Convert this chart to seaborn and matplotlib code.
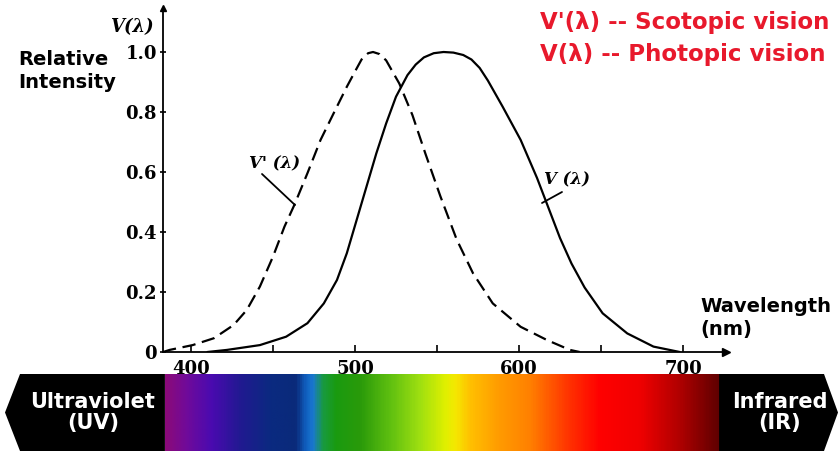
import numpy as np
import pandas as pd
import matplotlib
matplotlib.use("Agg")
import matplotlib.pyplot as plt
import seaborn as sns
from matplotlib.colors import LinearSegmentedColormap
from matplotlib.patches import Polygon
from matplotlib.ticker import FixedLocator

# ---------------- data ----------------
scotopic_wl = [383, 387, 401, 414, 426, 434, 442, 450, 457, 463, 471, 479, 487,
               495, 500, 504, 508, 511, 515, 519, 527, 535, 543, 552, 562, 572,
               584, 601, 617, 631, 637]
scotopic_v = [0.0, 0.007, 0.023, 0.046, 0.09, 0.14, 0.218, 0.318, 0.418, 0.49,
              0.596, 0.707, 0.796, 0.884, 0.935, 0.975, 0.996, 1.0, 0.993,
              0.972, 0.895, 0.79, 0.66, 0.52, 0.375, 0.262, 0.162, 0.084, 0.04,
              0.007, 0.0]

photopic_wl = [410, 422, 442, 458, 471, 481, 489, 495, 501, 507, 513, 519, 525,
               532, 537, 542, 548, 554, 560, 566, 571, 576, 581, 590, 601, 611,
               618, 625, 632, 640, 651, 666, 682, 698]
photopic_v = [0.0, 0.007, 0.023, 0.051, 0.096, 0.162, 0.24, 0.329, 0.44, 0.551,
              0.662, 0.762, 0.851, 0.923, 0.958, 0.982, 0.996, 1.0, 0.998,
              0.99, 0.975, 0.947, 0.905, 0.818, 0.707, 0.58, 0.48, 0.38, 0.295,
              0.215, 0.129, 0.062, 0.018, 0.0]

y_ticks = [0, 0.2, 0.4, 0.6, 0.8, 1.0]
y_ticklabels = ["0", "0.2", "0.4", "0.6", "0.8", "1.0"]
x_ticks = [400, 500, 600, 700]
x_ticklabels = ["400", "500", "600", "700"]
x_minor = [450, 550, 650]

spectrum_wl = [384.1, 396.3, 411.6, 429.9, 448.2, 463.4, 469.5, 473.8, 479.9,
               487.8, 503.0, 521.3, 539.6, 554.9, 561.0, 570.1, 588.4, 606.7,
               631.1, 649.4, 673.8, 698.2, 722.0]
spectrum_colors = ["#8a0a7a", "#700a9a", "#4a0ab0", "#201a90", "#0a2a80",
                   "#0a2a7a", "#1060c0", "#1a78d0", "#189a40", "#1a9a10",
                   "#2a9a0a", "#60c010", "#a0e010", "#e0f000", "#f5e800",
                   "#ffc000", "#ff9a00", "#ff8000", "#ff3000", "#ff0000",
                   "#f00000", "#b00000", "#600000"]

legend_lines = ["V'(λ) -- Scotopic vision", "V(λ) -- Photopic vision"]

# ---------------- figure ----------------
sns.set_theme(style="white")
plt.rcParams["font.family"] = ["DejaVu Sans"]
plt.rcParams["text.color"] = "black"

W, H = 840, 454
fig = plt.figure(figsize=(W / 100, H / 100), dpi=100)
fig.patch.set_facecolor("white")

PX_PER_NM = 1.64
def lam(px):
    return 400 + (px - 191) / PX_PER_NM

def fx(px):
    return px / W

def fy(py):
    return 1 - py / H

# main axes
ax = fig.add_axes([fx(163), fy(352), (726 - 163) / W, (352 - 8) / H])
ax.set_facecolor("white")

df_s = pd.DataFrame({"wavelength": scotopic_wl, "value": scotopic_v})
df_p = pd.DataFrame({"wavelength": photopic_wl, "value": photopic_v})
sns.lineplot(data=df_s, x="wavelength", y="value", ax=ax, color="black",
             lw=1.6, linestyle=(0, (6, 3)), sort=False)
sns.lineplot(data=df_p, x="wavelength", y="value", ax=ax, color="black",
             lw=1.6, sort=False)

ax.set_xlim(lam(163), lam(726))
ax.set_ylim(0, (352 - 8) / 300)
ax.set_xlabel("")
ax.set_ylabel("")

for s in ["top", "right"]:
    ax.spines[s].set_visible(False)
for s in ["left", "bottom"]:
    ax.spines[s].set_color("black")
    ax.spines[s].set_linewidth(1.3)

ax.set_yticks(y_ticks)
ax.set_yticklabels(y_ticklabels, fontfamily="DejaVu Serif", fontweight="bold",
                   fontsize=13)
ax.set_xticks(x_ticks)
ax.set_xticklabels(x_ticklabels, fontfamily="DejaVu Serif", fontweight="bold",
                   fontsize=13)
ax.xaxis.set_minor_locator(FixedLocator(x_minor))
ax.tick_params(axis="y", direction="inout", length=5, width=1.2, pad=2,
               colors="black", left=True)
ax.tick_params(axis="x", which="both", direction="in", length=5, width=1.2,
               pad=6, colors="black", bottom=True)
ax.grid(False)

# axis arrow heads
ax.plot(1, 0, marker=">", color="black", markersize=6, transform=ax.transAxes,
        clip_on=False)
ax.plot(0, 1, marker="^", color="black", markersize=5, transform=ax.transAxes,
        clip_on=False)

# curve labels with leader lines
ax.text(lam(275), (352 - 164) / 300, "V' (λ)", fontfamily="DejaVu Serif",
        fontweight="bold", fontstyle="italic", fontsize=12, ha="center",
        va="center")
ax.plot([lam(262), lam(295)], [(352 - 174) / 300, (352 - 205) / 300],
        color="black", lw=1.3)
ax.text(lam(567), (352 - 180) / 300, "V (λ)", fontfamily="DejaVu Serif",
        fontweight="bold", fontstyle="italic", fontsize=12, ha="center",
        va="center")
ax.plot([lam(562), lam(542)], [(352 - 192) / 300, (352 - 203) / 300],
        color="black", lw=1.3)

# texts outside the axes
fig.text(fx(132), fy(27), "V(λ)", fontfamily="DejaVu Serif", fontweight="bold",
         fontstyle="italic", fontsize=13, ha="center", va="center")
fig.text(fx(18), fy(71), "Relative\nIntensity", fontweight="bold", fontsize=14,
         ha="left", va="center", linespacing=1.25, color="black")
fig.text(fx(700), fy(318), "Wavelength\n(nm)", fontweight="bold", fontsize=14,
         ha="left", va="center", linespacing=1.3, color="black")
red = "#e8192c"
fig.text(fx(540), fy(22), legend_lines[0], color=red, fontweight="bold",
         fontsize=16.5, ha="left", va="center")
fig.text(fx(540), fy(55), legend_lines[1], color=red, fontweight="bold",
         fontsize=16.5, ha="left", va="center")

# spectrum bar
axb = fig.add_axes([fx(5), fy(451), (838 - 5) / W, (451 - 374) / H])
s0, s1 = spectrum_wl[0], spectrum_wl[-1]
stops = [((w - s0) / (s1 - s0), c) for w, c in zip(spectrum_wl, spectrum_colors)]
cmap = LinearSegmentedColormap.from_list("spec", stops)
axb.imshow(np.linspace(0, 1, 600)[None, :], extent=(s0, s1, 0, 1),
           aspect="auto", cmap=cmap, interpolation="bilinear")
axb.add_patch(Polygon([(s0, 0), (lam(20), 0), (lam(5), 0.5), (lam(20), 1),
                       (s0, 1)], closed=True, color="black", lw=0))
axb.add_patch(Polygon([(s1, 0), (lam(824), 0), (lam(838), 0.5), (lam(824), 1),
                       (s1, 1)], closed=True, color="black", lw=0))
axb.set_xlim(lam(5), lam(838))
axb.set_ylim(0, 1)
axb.axis("off")
axb.text(lam(93), 0.5, "Ultraviolet\n(UV)", color="white", fontweight="bold",
         fontsize=15, ha="center", va="center", linespacing=1.1)
axb.text(lam(780), 0.5, "Infrared\n(IR)", color="white", fontweight="bold",
         fontsize=15, ha="center", va="center", linespacing=1.1)

fig.savefig("out.png", dpi=100, facecolor="white")
